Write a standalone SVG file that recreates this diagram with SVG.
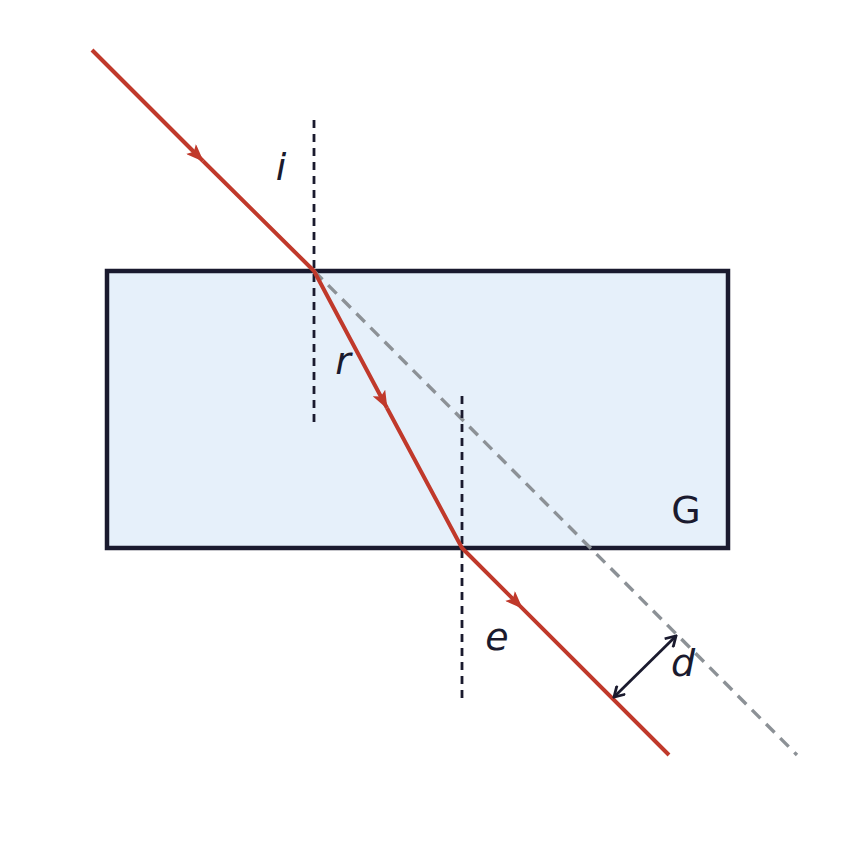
<svg xmlns="http://www.w3.org/2000/svg" width="855" height="848" viewBox="0 0 855 848">
<defs>
<style>
.ray{fill:none;stroke:#c0392b;stroke-width:4;stroke-linecap:butt;stroke-linejoin:round}
.normal{fill:none;stroke:#1a1a2e;stroke-width:2.8;stroke-dasharray:8 6}
.ext{fill:none;stroke:#8c9196;stroke-width:3.4;stroke-dasharray:12 8}
.lbl{font-family:"DejaVu Sans",sans-serif;font-size:38px;fill:#1a1a2e;text-anchor:middle}
.it{font-style:italic}
.dim{fill:none;stroke:#1a1a2e;stroke-width:2.8}
</style>
<marker id="ah" viewBox="0 0 18 14" refX="17" refY="7" markerWidth="18" markerHeight="14" markerUnits="userSpaceOnUse" orient="auto">
<path d="M0,0 L18,7 L0,14 L4,7 z" fill="#c0392b"/>
</marker>
<marker id="open" viewBox="0 0 14 14" refX="12" refY="7" markerWidth="14" markerHeight="14" markerUnits="userSpaceOnUse" orient="auto-start-reverse">
<path d="M2,1 L12,7 L2,13" fill="none" stroke="#1a1a2e" stroke-width="2.8"/>
</marker>
</defs>
<rect width="855" height="848" fill="#ffffff"/>
<g id="glass">
<rect x="107" y="271" width="621" height="277" fill="#e6f0fa" stroke="#1a1a2e" stroke-width="4.5"/>
<text class="lbl" x="686" y="523" font-size="35">G</text>
</g>
<g id="connectors">
<line class="ext" x1="314" y1="271" x2="797" y2="755"/>
<line class="normal" x1="314" y1="120" x2="314" y2="424"/>
<line class="normal" x1="462" y1="396" x2="462" y2="700"/>
<path class="ray" d="M92,50 L203,161" marker-end="url(#ah)"/>
<path class="ray" d="M203,161 L314,271 L387,408"/>
<path class="ray" d="M314,271 L387,408" marker-end="url(#ah)" stroke-opacity="0"/>
<path class="ray" d="M387,408 L462,548 L669,755"/>
<path class="ray" d="M462,548 L522,608" marker-end="url(#ah)" stroke-opacity="0"/>
<line class="dim" x1="614" y1="697" x2="676" y2="636" marker-start="url(#open)" marker-end="url(#open)"/>
</g>
<g id="labels">
<text class="lbl it" x="281" y="180">i</text>
<text class="lbl it" x="343" y="374">r</text>
<text class="lbl it" x="497" y="650">e</text>
<text class="lbl it" x="683" y="676">d</text>
</g>
</svg>
